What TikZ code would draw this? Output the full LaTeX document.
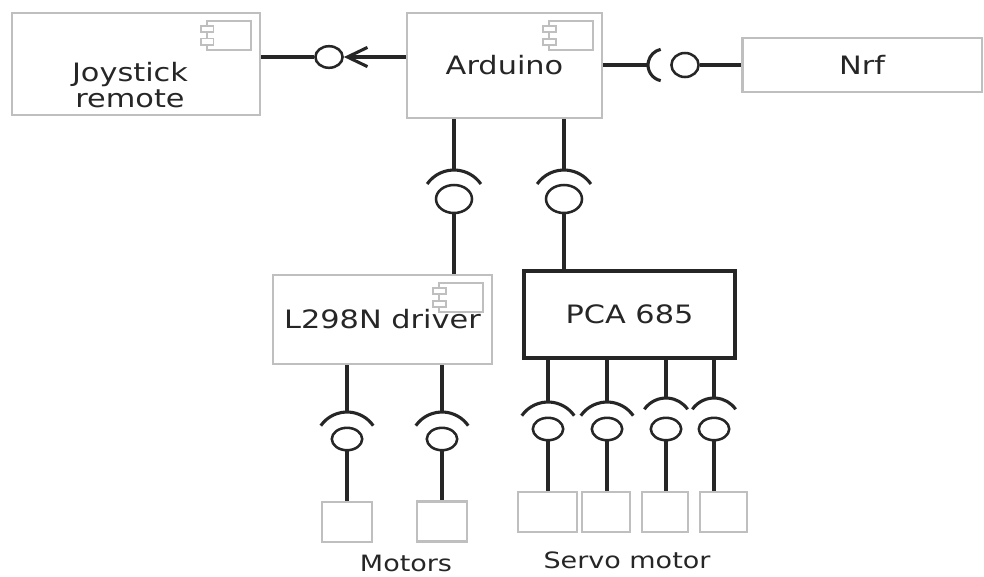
\documentclass[tikz,border=0pt]{standalone}
\usepackage{fontspec}
\setmainfont{DejaVu Sans}[FakeStretch=1.2]
\usepackage{tikz}
\usetikzlibrary{arrows.meta, shapes.geometric, positioning}

\tikzset{socket span/.store in=\sockspan, socket span=55}

\begin{document}
\begin{tikzpicture}[
        x=0.0125cm, y=-0.0125cm,
        every node/.style={font=\fontsize{9}{9.5}\selectfont, text=black!85},
        box/.style={draw=gray!50, line width=0.8pt, inner sep=0pt},
        comp/.style={box, path picture={
            \coordinate (ic) at ([xshift=-0.11cm, yshift=-0.1cm]path picture bounding box.north east);
            \draw[gray!50, line width=0.6pt] (ic) rectangle ++(-0.55cm,-0.36cm);
            \draw[gray!50, line width=0.6pt, fill=white] ([xshift=-0.47cm, yshift=-0.06cm]ic) rectangle ++(-0.16cm,-0.08cm);
            \draw[gray!50, line width=0.6pt, fill=white] ([xshift=-0.47cm, yshift=-0.22cm]ic) rectangle ++(-0.16cm,-0.08cm);
        }},
        chip/.style={draw=black!85, line width=1.2pt, minimum width=2.64cm, minimum height=1.09cm},
        load/.style={box, minimum height=0.5cm},
        conn/.style={line width=1.1pt, black!85},
        ball/.style={draw, black!85, line width=0.9pt, ellipse, inner sep=0pt, minimum width=0.45cm, minimum height=0.35cm},
        small ball/.style={ball, minimum width=0.38cm, minimum height=0.28cm},
        side ball/.style={ball, minimum width=0.34cm, minimum height=0.27cm},
        pics/socket/.style={code={
            \draw[conn] (0cm,-#1) ++(90+\sockspan:#1) arc[start angle=90+\sockspan, end angle=90-\sockspan, radius=#1];
        }},
        tag/.style={font=\fontsize{8}{9}\selectfont}
    ]
        \useasboundingbox (0,0) rectangle (984,576);

        \node[comp, minimum width=3.1cm, minimum height=1.275cm] (joy) at (136,64) {};
        \node[align=center] (joytxt) at (130,85) {Joystick\\remote};
        \node[comp, minimum width=2.44cm, minimum height=1.31cm] (ard) at (504.5,65.5) {Arduino};
        \node[box, minimum width=2.99cm, minimum height=0.675cm] (nrf) at (862,65) {Nrf};
        \node[comp, minimum width=2.74cm, minimum height=1.11cm] (drv) at (382.5,319.5) {L298N driver};
        \node[chip] (pca) at (629.5,314.5) {PCA 685};

        \node[load, minimum width=0.62cm] (m1) at (347,522) {};
        \node[load, minimum width=0.62cm] (m2) at (442,521.5) {};
        \node[load, minimum width=0.74cm] (sv1) at (547.5,512) {};
        \node[load, minimum width=0.6cm] (sv2) at (606,512) {};
        \node[load, minimum width=0.575cm] (sv3) at (665,512) {};
        \node[load, minimum width=0.59cm] (sv4) at (723.5,512) {};
        \node[tag] (mlab) at (406,563) {Motors};
        \node[tag] (svlab) at (627,560) {Servo motor};

        \node[side ball] (jb) at (329,57) {};
        \draw[conn] (joy.east |- jb) -- (jb);
        \draw[conn, -{Straight Barb[length=0.25cm, width=0.24cm]}] (ard.west |- jb) -- (jb);

        \coordinate (ns) at (648,65);
        \node[side ball, minimum height=0.3cm] (nb) at (685,65) {};
        \draw[conn] (ard.east |- ns) -- (ns);
        \pic[rotate=90, socket span=78] at (ns) {socket=0.2cm};
        \draw[conn] (nb) -- (nrf.west |- nb);

        \foreach \x/\n in {454/1, 564/2} {
            \coordinate (s\n) at (\x,170);
            \node[ball] (b\n) at (\x,199) {};
            \draw[conn] (ard.south -| s\n) -- (s\n);
            \pic at (s\n) {socket=0.41cm};
        }
        \draw[conn] (b1) -- (b1 |- drv.north);
        \draw[conn] (b2) -- (b2 |- pca.north);

        \foreach \x/\n in {347/3, 442/4} {
            \coordinate (s\n) at (\x,412);
            \node[small ball] (b\n) at (\x,439) {};
            \draw[conn] (drv.south -| s\n) -- (s\n);
            \pic at (s\n) {socket=0.4cm};
        }
        \draw[conn] (b3) -- (b3 |- m1.north);
        \draw[conn] (b4) -- (b4 |- m2.north);

        \foreach \x/\y/\r/\n in {548/402/0.4/5, 607/402/0.4/6, 666/398/0.33/7, 714/398/0.33/8} {
            \coordinate (s\n) at (\x,\y);
            \node[small ball] (b\n) at (\x,429) {};
            \draw[conn] (pca.south -| s\n) -- (s\n);
            \pic at (s\n) {socket=\r cm};
        }
        \draw[conn] (b5) -- (b5 |- sv1.north);
        \draw[conn] (b6) -- (b6 |- sv2.north);
        \draw[conn] (b7) -- (b7 |- sv3.north);
        \draw[conn] (b8) -- (b8 |- sv4.north);
    \end{tikzpicture}
\end{document}
